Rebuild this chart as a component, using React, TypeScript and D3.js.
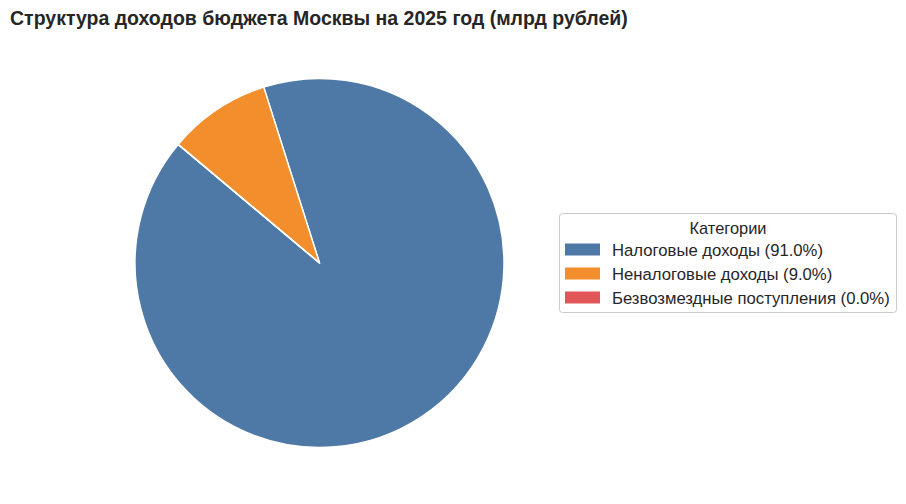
import React from "react";
import * as d3 from "d3";

const categories = ["Налоговые доходы", "Неналоговые доходы", "Безвозмездные поступления"];
const values = [4550, 450, 0];
const colors = ["#4e79a7", "#f28e2b", "#e15759"];
const title = "Структура доходов бюджета Москвы на 2025 год (млрд рублей)";
const legendTitle = "Категории";

export default function App() {
  const W = 906, H = 504;
  const cx = 319.5, cy = 263, r = 184.5;
  const total = d3.sum(values);
  const start = (90 - 140) * Math.PI / 180;
  const pie = d3.pie<number>().sort(null).value(d => d).startAngle(start).endAngle(start - 2 * Math.PI);
  const arcs = pie(values);
  const arc = d3.arc<d3.PieArcDatum<number>>().innerRadius(0).outerRadius(r);
  const font = "'Liberation Sans', Arial, sans-serif";
  const lx = 559, ly = 213, lw = 337, lh = 99;
  return (
    <svg width={W} height={H} style={{ position: "absolute", left: 0, top: 0, background: "#fff" }}>
      <text x={10} y={25} fontFamily={font} fontWeight="bold" fontSize={19.5} fill="#262626">{title}</text>
      <g transform={`translate(${cx},${cy})`}>
        {arcs.map((a, i) => (
          <path key={i} d={arc(a) || ""} fill={colors[i]} stroke="#fff" strokeWidth={1.5} strokeLinejoin="round" />
        ))}
      </g>
      <rect x={lx + 0.5} y={ly + 0.5} width={lw} height={lh} rx={3} fill="#fff" fillOpacity={0.8} stroke="#cccccc" />
      <text x={lx + lw / 2 + 0.5} y={234} textAnchor="middle" fontFamily={font} fontSize={16.4} fill="#262626">{legendTitle}</text>
      {categories.map((c, i) => {
        const y = 249.5 + i * 24;
        const pct = (values[i] / total * 100).toFixed(1);
        return (
          <g key={i}>
            <rect x={565} y={y - 6} width={35} height={12} fill={colors[i]} />
            <text x={612} y={y + 6} fontFamily={font} fontSize={16.7} fill="#262626">{`${c} (${pct}%)`}</text>
          </g>
        );
      })}
    </svg>
  );
}
